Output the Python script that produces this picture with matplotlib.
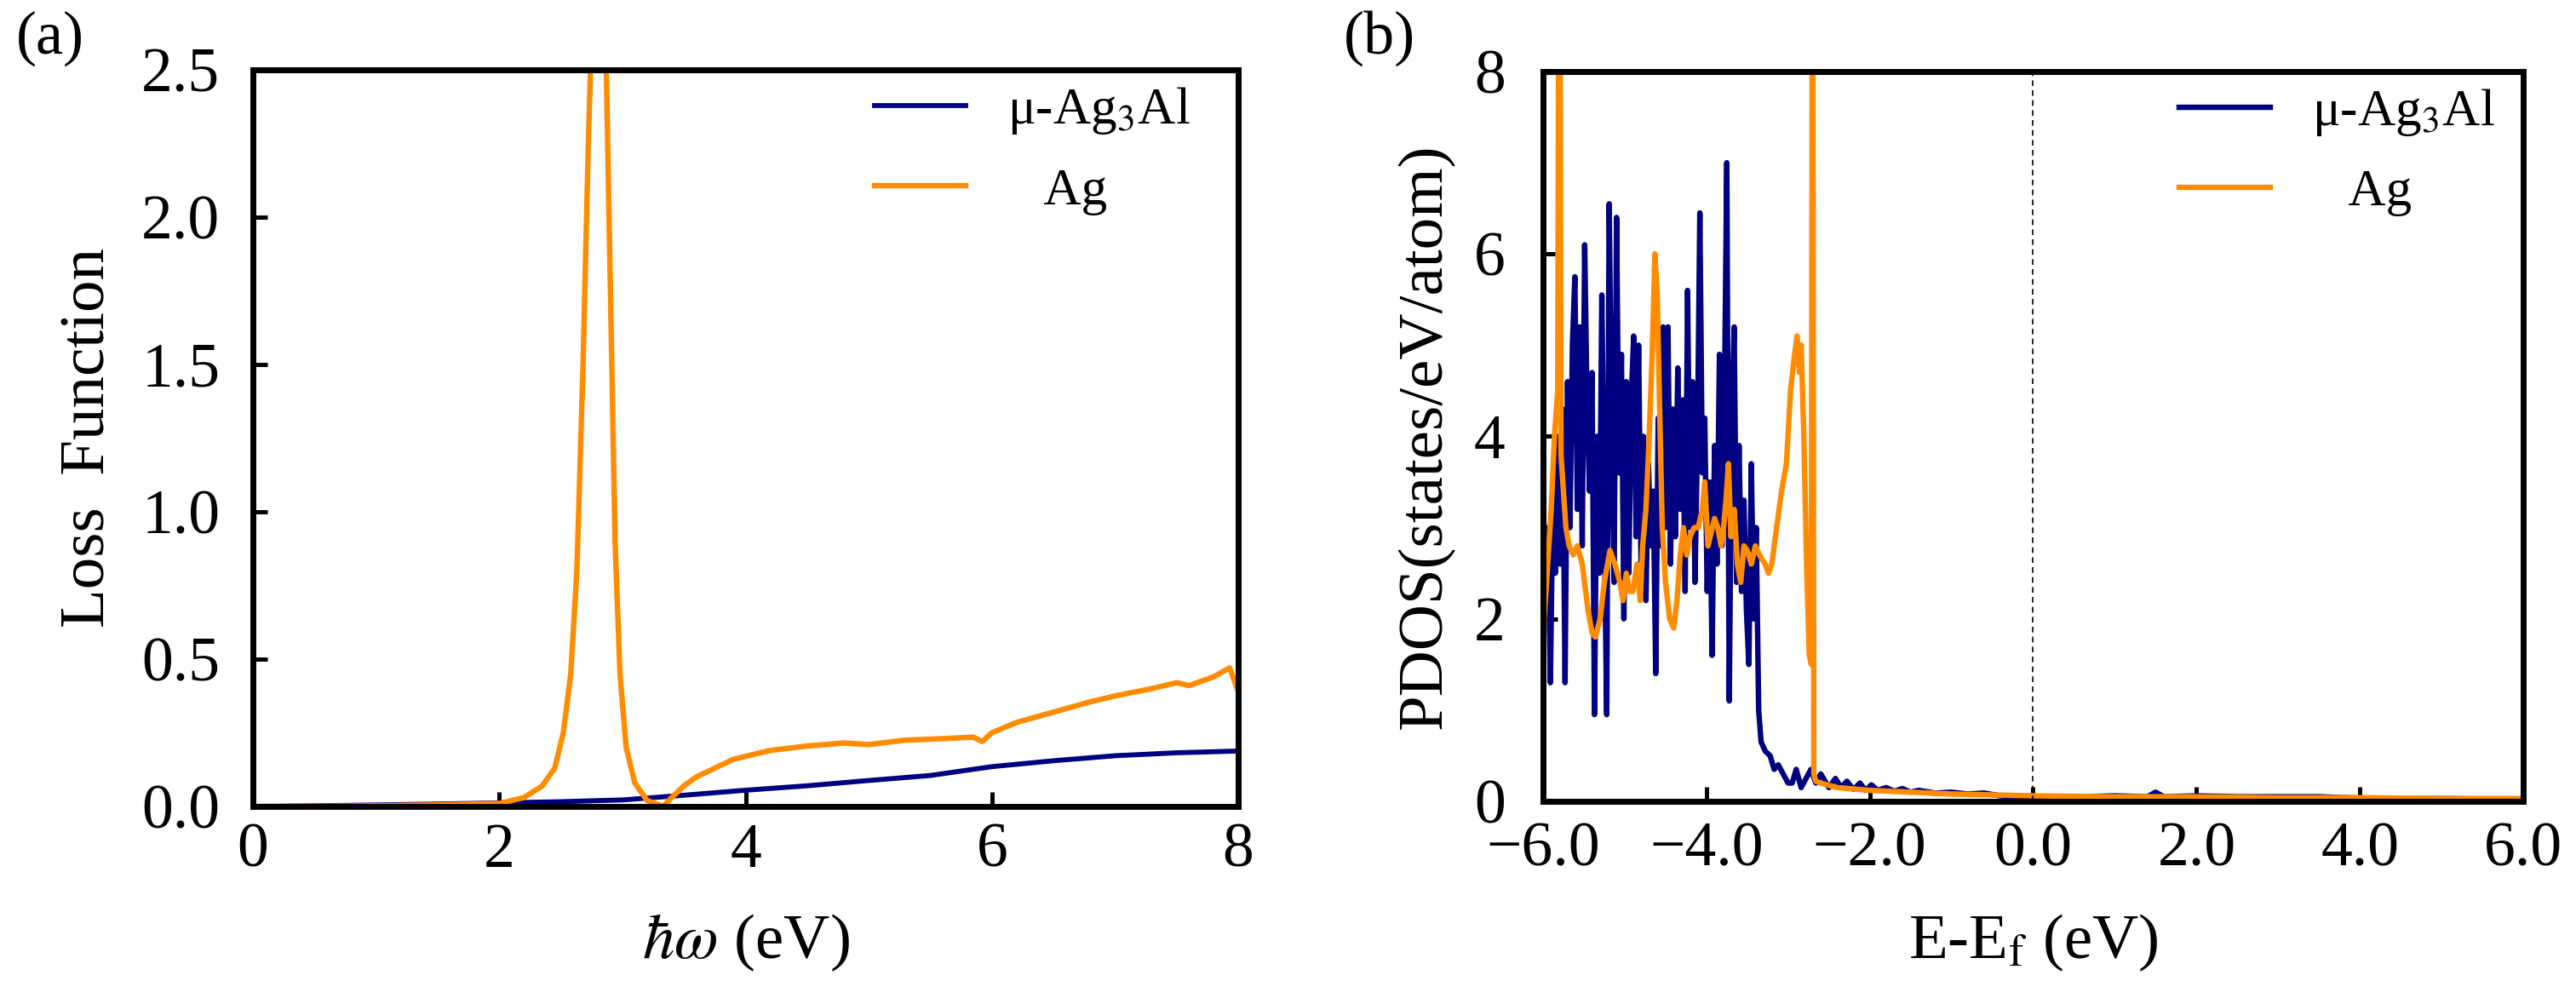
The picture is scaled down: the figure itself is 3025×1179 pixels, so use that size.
import matplotlib
matplotlib.use("Agg")
import matplotlib.pyplot as plt

plt.rcParams['font.family'] = ['Liberation Serif', 'DejaVu Serif']
plt.rcParams['mathtext.fontset'] = 'stix'

NAVY = '#000080'
ORANGE = '#FF8C00'

# ---------------- panel (a): loss function ----------------
loss_x_alloy = [0.0, 0.5, 1.0, 1.5, 2.0, 2.5, 3.0, 3.5, 4.0, 4.5, 5.0, 5.5, 6.0, 6.5, 7.0, 7.5, 8.0]
loss_y_alloy = [0.0, 0.002, 0.005, 0.008, 0.012, 0.016, 0.022, 0.038, 0.055, 0.07, 0.088, 0.105, 0.135, 0.155, 0.172, 0.182, 0.188]

loss_x_ag = [0.0, 0.5, 1.0, 1.5, 2.0, 2.2, 2.35, 2.45, 2.52, 2.58, 2.63, 2.68, 2.72, 2.76, 2.81,
             2.86, 2.90, 2.94, 2.98, 3.03, 3.10, 3.20, 3.33, 3.40, 3.50, 3.60, 3.75, 3.90, 4.00,
             4.20, 4.50, 4.80, 5.00, 5.30, 5.60, 5.85, 5.92, 6.00, 6.20, 6.50, 6.80, 7.00, 7.30,
             7.50, 7.60, 7.80, 7.93, 8.00]
loss_y_ag = [0.0, 0.0, 0.002, 0.005, 0.01, 0.03, 0.07, 0.13, 0.25, 0.45, 0.8, 1.5, 2.2, 2.8, 3.3,
             2.7, 1.8, 0.9, 0.45, 0.2, 0.08, 0.02, 0.0, 0.03, 0.07, 0.1, 0.13, 0.16, 0.17,
             0.19, 0.205, 0.215, 0.21, 0.225, 0.23, 0.235, 0.22, 0.25, 0.285, 0.32, 0.355, 0.375, 0.4,
             0.42, 0.41, 0.44, 0.47, 0.39]

loss_xticks = [0, 2, 4, 6, 8]
loss_yticks = [0.0, 0.5, 1.0, 1.5, 2.0, 2.5]
loss_yticklabels = ['0.0', '0.5', '1.0', '1.5', '2.0', '2.5']

# ---------------- panel (b): PDOS ----------------
pdos_x_alloy = [-6.00, -5.97, -5.94, -5.91, -5.88, -5.85, -5.82, -5.79, -5.76, -5.73,
                -5.70, -5.67, -5.64, -5.61, -5.58, -5.55, -5.52, -5.49, -5.46, -5.43,
                -5.40, -5.37, -5.34, -5.31, -5.28, -5.25, -5.22, -5.19, -5.16, -5.13,
                -5.10, -5.07, -5.04, -5.01, -4.98, -4.95, -4.92, -4.89, -4.86, -4.83,
                -4.80, -4.77, -4.74, -4.71, -4.68, -4.65, -4.62, -4.59, -4.56, -4.53,
                -4.50, -4.47, -4.44, -4.41, -4.38, -4.35, -4.32, -4.29, -4.26, -4.23,
                -4.20, -4.17, -4.14, -4.11, -4.08, -4.05, -4.02, -3.99, -3.96, -3.93,
                -3.90, -3.87, -3.84, -3.81, -3.78, -3.75, -3.72, -3.69, -3.66, -3.63,
                -3.60, -3.57, -3.54, -3.51, -3.48, -3.45, -3.42, -3.39, -3.36,
                -3.33, -3.28, -3.22, -3.17, -3.12, -3.06, -3.00, -2.95, -2.90, -2.84,
                -2.78, -2.72, -2.66, -2.60, -2.50, -2.42, -2.35, -2.28, -2.20, -2.12,
                -2.05, -1.98, -1.90, -1.80, -1.70, -1.60, -1.50, -1.40, -1.20, -1.00,
                -0.80, -0.60, -0.40, -0.20, 0.00, 0.30, 0.60, 1.00, 1.40, 1.50,
                1.60, 2.00, 2.50, 3.00, 3.50, 3.80, 4.20, 5.00, 6.00]
pdos_y_alloy = [3.5, 2.0, 3.0, 1.3, 3.3, 2.5, 4.0, 2.6, 4.3, 1.3,
                4.6, 3.0, 5.0, 5.75, 3.2, 5.2, 2.8, 6.1, 4.3, 3.4,
                4.7, 0.95, 4.0, 2.5, 5.55, 3.0, 0.95, 6.55, 4.0, 2.4,
                6.4, 3.6, 4.9, 2.0, 4.6, 2.5, 4.4, 5.1, 2.9, 5.0,
                2.6, 4.0, 2.2, 3.7, 2.8, 3.4, 1.4, 4.2, 2.8, 5.2,
                3.0, 5.2, 2.6, 4.3, 2.9, 4.75, 3.2, 4.4, 2.3, 5.6,
                3.0, 4.6, 2.4, 3.9, 6.45, 3.6, 4.2, 2.3, 3.5, 1.6,
                3.9, 2.6, 4.9, 2.8, 4.3, 7.0, 1.1, 4.2, 5.2, 2.4,
                3.9, 2.3, 3.3, 2.1, 1.5, 3.7, 2.0, 3.0, 1.0,
                0.65, 0.55, 0.5, 0.35, 0.4, 0.3, 0.2, 0.2, 0.35, 0.15,
                0.25, 0.35, 0.2, 0.3, 0.15, 0.25, 0.15, 0.22, 0.13, 0.2,
                0.12, 0.18, 0.12, 0.15, 0.11, 0.14, 0.1, 0.12, 0.09, 0.1,
                0.08, 0.09, 0.06, 0.05, 0.04, 0.05, 0.05, 0.06, 0.05, 0.1,
                0.05, 0.06, 0.05, 0.05, 0.05, 0.04, 0.03, 0.03, 0.02]

pdos_x_ag = [-6.00, -5.95, -5.90, -5.86, -5.82, -5.80, -5.78, -5.75, -5.72, -5.68,
             -5.63, -5.58, -5.52, -5.45, -5.40, -5.36, -5.30, -5.25, -5.18, -5.12,
             -5.06, -5.02, -4.98, -4.94, -4.90, -4.85, -4.81, -4.78, -4.74, -4.70,
             -4.66, -4.63, -4.60, -4.57, -4.54, -4.50, -4.45, -4.40, -4.36, -4.32,
             -4.28, -4.24, -4.20, -4.15, -4.10, -4.05, -4.02, -3.98, -3.94, -3.90,
             -3.86, -3.82, -3.79, -3.76, -3.73, -3.70, -3.66, -3.62, -3.58, -3.54,
             -3.50, -3.45, -3.40, -3.35, -3.28, -3.24, -3.20, -3.14, -3.08, -3.02,
             -2.97, -2.92, -2.89, -2.86, -2.84, -2.81, -2.77, -2.74, -2.715, -2.70,
             -2.685, -2.66, -2.60, -2.40, -2.00, -1.50, -1.00, -0.50, 0.00, 1.00,
             2.00, 3.00, 4.00, 5.00, 6.00]
pdos_y_ag = [1.8, 2.5, 3.2, 4.0, 4.5, 12.0, 3.8, 3.4, 3.0, 2.8,
             2.7, 2.8, 2.6, 2.1, 1.85, 1.8, 2.0, 2.4, 2.75, 2.6,
             2.4, 2.2, 2.5, 2.3, 2.3, 2.6, 2.2, 2.8, 3.2, 4.0,
             5.0, 6.0, 5.5, 4.2, 3.0, 2.4, 2.0, 1.9, 2.2, 2.7,
             3.0, 2.7, 2.9, 3.0, 3.0, 3.2, 3.5, 2.8, 2.95, 3.1,
             3.0, 2.8, 3.0, 3.3, 3.7, 2.9, 3.2, 2.6, 2.4, 2.8,
             2.75, 2.6, 2.8, 2.7, 2.6, 2.5, 2.6, 3.0, 3.4, 3.7,
             4.5, 4.9, 5.1, 4.7, 5.0, 4.1, 2.5, 1.6, 1.5, 12.0,
             0.3, 0.22, 0.2, 0.15, 0.12, 0.1, 0.08, 0.07, 0.06, 0.05,
             0.05, 0.04, 0.04, 0.03, 0.03]

pdos_xticks = [-6, -4, -2, 0, 2, 4, 6]
pdos_xticklabels = ['\u22126.0', '\u22124.0', '\u22122.0', '0.0', '2.0', '4.0', '6.0']
pdos_yticks = [0, 2, 4, 6, 8]

legend_labels = ['\u03bc-Ag$_3$Al', '   Ag']

TICK_FS = 53
LABEL_FS = 54
LEG_FS = 44

fig = plt.figure(figsize=(30.25, 11.79), dpi=100)
ax1 = fig.add_axes([0.0982, 0.1968, 0.3825, 0.7337])
ax2 = fig.add_axes([0.5990, 0.2019, 0.3805, 0.7269])


def style(ax, xpad, ypad):
    for s in ax.spines.values():
        s.set_linewidth(5.0)
        s.set_color('black')
    ax.tick_params(direction='in', length=12, width=3.6, labelsize=TICK_FS,
                   top=False, right=False)
    ax.tick_params(axis='x', pad=xpad)
    ax.tick_params(axis='y', pad=ypad)


def place_labels(ax, xlab, ylab, xy, yx):
    ax.set_xlabel(xlab, fontsize=LABEL_FS)
    ax.set_ylabel(ylab, fontsize=LABEL_FS)
    ax.xaxis.label.set_verticalalignment('baseline')
    ax.yaxis.label.set_verticalalignment('baseline')
    ax.xaxis.set_label_coords(0.5, xy)
    ax.yaxis.set_label_coords(yx, 0.5)


ax1.plot(loss_x_alloy, loss_y_alloy, color=NAVY, lw=4.2, label=legend_labels[0])
ax1.plot(loss_x_ag, loss_y_ag, color=ORANGE, lw=4.6, label=legend_labels[1])
ax1.set_xlim(0, 8)
ax1.set_ylim(0, 2.5)
ax1.set_xticks(loss_xticks)
ax1.set_yticks(loss_yticks)
ax1.set_yticklabels(loss_yticklabels)
style(ax1, 14, 28)
place_labels(ax1, r'$\hbar\omega$ (eV)', 'Loss  Function', -0.206, -0.151)
ax1.legend(loc='upper left', bbox_to_anchor=(0.631, 0.979), frameon=False,
           fontsize=LEG_FS, handlelength=1.75, handletextpad=0.8,
           labelspacing=0.6, borderpad=0, borderaxespad=0)
fig.text(0.0063, 0.962, '(a)', fontsize=52, ha='left', va='center')

ax2.plot(pdos_x_alloy, pdos_y_alloy, color=NAVY, lw=4.6, label=legend_labels[0])
ax2.plot(pdos_x_ag, pdos_y_ag, color=ORANGE, lw=4.6, label=legend_labels[1])
ax2.axvline(0, color='black', lw=1.2, ls=(0, (4, 3)))
ax2.set_xlim(-6, 6)
ax2.set_ylim(0, 8)
ax2.set_xticks(pdos_xticks)
ax2.set_xticklabels(pdos_xticklabels)
ax2.set_yticks(pdos_yticks)
style(ax2, 17, 32)
place_labels(ax2, 'E-E$_\\mathrm{f}$ (eV)', 'PDOS(states/eV/atom)', -0.215, -0.104)
ax2.legend(loc='upper left', bbox_to_anchor=(0.649, 0.979), frameon=False,
           fontsize=LEG_FS, handlelength=1.75, handletextpad=0.8,
           labelspacing=0.6, borderpad=0, borderaxespad=0)
fig.text(0.5216, 0.962, '(b)', fontsize=52, ha='left', va='center')

fig.savefig('out.png', dpi=100)
